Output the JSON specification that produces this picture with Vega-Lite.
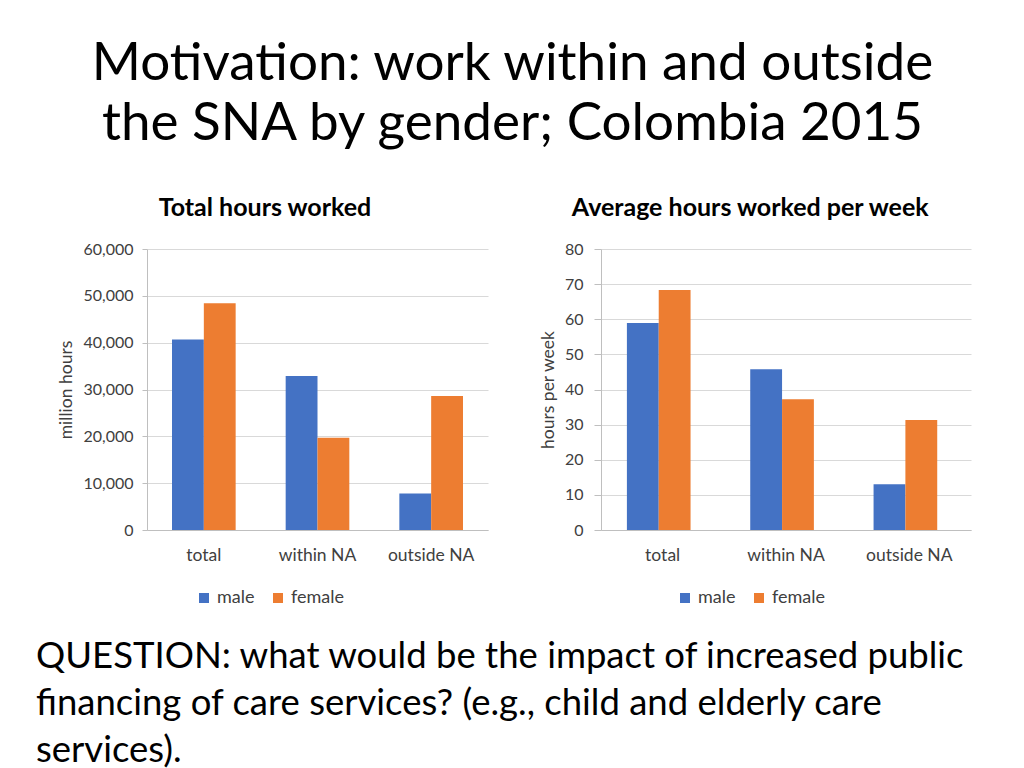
{
  "$schema": "https://vega.github.io/schema/vega-lite/v6.json",
  "background": "white",
  "padding": {"left": 36, "top": 38, "right": 0, "bottom": 0},
  "title": {
    "text": ["Motivation: work within and outside", "the SNA by gender; Colombia 2015"],
    "font": "Lato",
    "fontSize": 53,
    "fontWeight": "normal",
    "lineHeight": 60,
    "color": "black",
    "anchor": "middle",
    "offset": 45
  },
  "datasets": {
    "total": [
      {"category": "total", "gender": "male", "value": 40700},
      {"category": "total", "gender": "female", "value": 48400},
      {"category": "within NA", "gender": "male", "value": 32900},
      {"category": "within NA", "gender": "female", "value": 19700},
      {"category": "outside NA", "gender": "male", "value": 7800},
      {"category": "outside NA", "gender": "female", "value": 28600}
    ],
    "average": [
      {"category": "total", "gender": "male", "value": 58.9},
      {"category": "total", "gender": "female", "value": 68.3},
      {"category": "within NA", "gender": "male", "value": 45.8},
      {"category": "within NA", "gender": "female", "value": 37.2},
      {"category": "outside NA", "gender": "male", "value": 13.0},
      {"category": "outside NA", "gender": "female", "value": 31.3}
    ],
    "question": [
      {"text": "QUESTION: what would be the impact of increased public\nfinancing of care services? (e.g., child and elderly care\nservices)."}
    ]
  },
  "vconcat": [
    {
      "hconcat": [
        {
          "data": {"name": "total"},
          "width": 341,
          "height": 281,
          "title": {"text": "Total hours worked", "frame": "bounds", "anchor": "middle", "offset": 20, "dx": -8},
          "mark": {"type": "bar"},
          "encoding": {
            "x": {
              "field": "category", "type": "nominal",
              "sort": ["total", "within NA", "outside NA"],
              "title": null,
              "scale": {"paddingInner": 0.44, "paddingOuter": 0.22},
              "axis": {"labelAngle": 0, "ticks": false, "labelPadding": 16, "labelFontSize": 17.5, "grid": false}
            },
            "xOffset": {"field": "gender", "sort": ["male", "female"]},
            "y": {
              "field": "value", "type": "quantitative",
              "scale": {"domain": [0, 60000]},
              "axis": {"title": "million hours", "values": [0, 10000, 20000, 30000, 40000, 50000, 60000], "format": ",.0f", "grid": true, "tickSize": 5, "labelPadding": 9}
            },
            "color": {
              "field": "gender", "type": "nominal",
              "scale": {"domain": ["male", "female"], "range": ["#4472C4", "#ED7D31"]},
              "legend": {"title": null, "orient": "none", "direction": "horizontal", "legendX": 48, "legendY": 340}
            }
          }
        },
        {
          "data": {"name": "average"},
          "width": 370,
          "height": 281,
          "title": {"text": "Average hours worked per week", "frame": "bounds", "anchor": "middle", "offset": 20, "dx": -5},
          "mark": {"type": "bar"},
          "encoding": {
            "x": {
              "field": "category", "type": "nominal",
              "sort": ["total", "within NA", "outside NA"],
              "title": null,
              "scale": {"paddingInner": 0.42, "paddingOuter": 0.21},
              "axis": {"labelAngle": 0, "ticks": false, "labelPadding": 16, "labelFontSize": 17.5, "grid": false}
            },
            "xOffset": {"field": "gender", "sort": ["male", "female"]},
            "y": {
              "field": "value", "type": "quantitative",
              "scale": {"domain": [0, 80]},
              "axis": {"title": "hours per week", "values": [0, 10, 20, 30, 40, 50, 60, 70, 80], "grid": true, "tickSize": 7, "labelPadding": 11}
            },
            "color": {
              "field": "gender", "type": "nominal",
              "scale": {"domain": ["male", "female"], "range": ["#4472C4", "#ED7D31"]},
              "legend": {"title": null, "orient": "none", "direction": "horizontal", "legendX": 75, "legendY": 340}
            }
          }
        }
      ],
      "spacing": 51,
      "resolve": {"scale": {"color": "independent"}}
    },
    {
      "data": {"name": "question"},
      "width": 842,
      "height": 130,
      "mark": {"type": "text", "align": "left", "baseline": "top", "dx": -111, "font": "Lato", "fontSize": 36.5, "lineBreak": "\n", "lineHeight": 47, "color": "black"},
      "encoding": {
        "text": {"field": "text"},
        "x": {"datum": 0, "type": "quantitative", "scale": {"domain": [0, 1]}, "axis": null},
        "y": {"datum": 1, "type": "quantitative", "scale": {"domain": [0, 1]}, "axis": null}
      }
    }
  ],
  "spacing": 32,
  "config": {
    "font": "Lato",
    "view": {"stroke": null},
    "axis": {
      "labelFont": "Lato", "labelFontSize": 16, "labelColor": "#404040",
      "titleFont": "Lato", "titleFontSize": 17.5, "titleLineHeight": 20, "titleFontWeight": "normal", "titleColor": "#404040",
      "domainColor": "#bfbfbf", "tickColor": "#bfbfbf", "gridColor": "#d9d9d9",
      "titlePadding": 7
    },
    "legend": {
      "labelFont": "Lato", "labelFontSize": 18, "labelColor": "#404040",
      "symbolType": "square", "symbolSize": 100, "symbolStrokeWidth": 0,
      "columnPadding": 14, "labelOffset": 4
    },
    "title": {"font": "Lato", "fontSize": 25, "fontWeight": "bold", "color": "black"}
  }
}
